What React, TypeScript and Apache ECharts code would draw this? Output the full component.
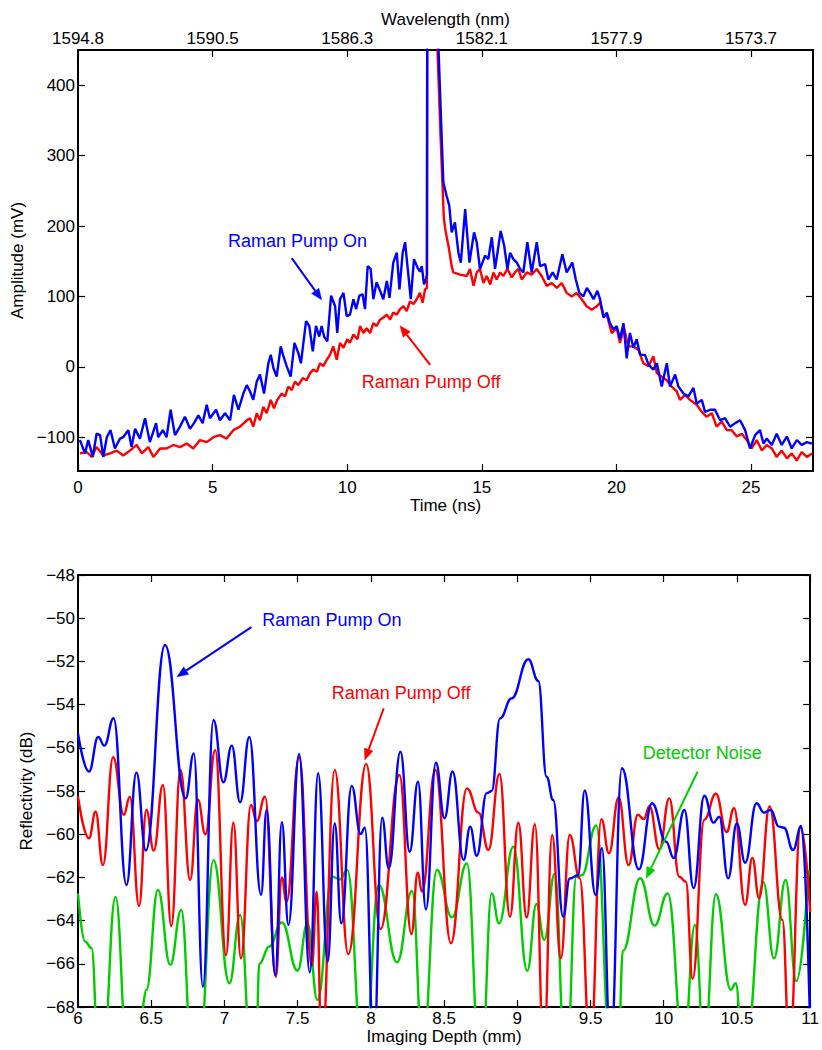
import React, { useEffect, useRef } from "react";
import * as echarts from "echarts";

const FONT = "'Liberation Sans', Arial, Helvetica, sans-serif";
const BLUE = "#0000ff";
const RED = "#ff0000";
const GREEN = "#00cc00";

// ---------- top panel: time-domain traces ----------
const timeTicks = [0, 5, 10, 15, 20, 25];
const wavelengthTickLabels = ["1594.8", "1590.5", "1586.3", "1582.1", "1577.9", "1573.7"];
const amplitudeTicks = [-100, 0, 100, 200, 300, 400];

const pumpOnTrace: [number, number][] = [
  [0.07, -104], [0.26, -123], [0.38, -104], [0.55, -128], [0.69, -95], [0.82, -97], [0.94, -128],
  [1.07, -100], [1.21, -90], [1.37, -116], [1.56, -102], [1.68, -100], [1.87, -90], [1.99, -114],
  [2.12, -88], [2.3, -102], [2.49, -73], [2.67, -107], [2.9, -80], [2.98, -100], [3.15, -90],
  [3.29, -100], [3.44, -61], [3.6, -97], [3.79, -85], [3.97, -71], [4.16, -88], [4.31, -80],
  [4.47, -69], [4.63, -80], [4.78, -54], [4.9, -73], [5.13, -61], [5.27, -76], [5.46, -66],
  [5.65, -76], [5.79, -40], [5.96, -61], [6.14, -38], [6.27, -26], [6.39, -35], [6.51, -47],
  [6.64, -21], [6.76, -11], [6.91, -38], [7.07, 5], [7.16, 17], [7.26, -2], [7.38, -14],
  [7.53, 29], [7.63, 15], [7.75, 1], [7.9, -14], [8.04, 34], [8.18, 20], [8.28, 5], [8.47, 65],
  [8.59, 58], [8.72, 22], [8.84, 58], [8.96, 43], [9.05, 58], [9.14, 43], [9.26, 36], [9.4, 101],
  [9.55, 86], [9.63, 48], [9.73, 96], [9.86, 105], [9.98, 72], [10.1, 74], [10.23, 96],
  [10.33, 82], [10.45, 101], [10.57, 103], [10.66, 82], [10.76, 143], [10.87, 139], [10.97, 96],
  [11.09, 120], [11.22, 108], [11.34, 96], [11.47, 122], [11.57, 98], [11.71, 148], [11.84, 162],
  [11.94, 110], [12.06, 162], [12.15, 177], [12.23, 146], [12.36, 96], [12.48, 153], [12.61, 141],
  [12.7, 135], [12.77, 143], [12.85, 117], [12.93, 125], [12.96, 130], [13.0, 1500], [13.39, 453],
  [13.51, 324], [13.57, 262], [13.69, 243], [13.79, 229], [13.88, 191], [14.0, 205], [14.13, 162],
  [14.22, 148], [14.38, 224], [14.54, 148], [14.71, 191], [14.81, 177], [14.93, 139], [15.12, 158],
  [15.24, 153], [15.37, 184], [15.49, 139], [15.7, 193], [15.83, 172], [15.95, 139], [16.05, 162],
  [16.17, 153], [16.3, 148], [16.42, 139], [16.54, 134], [16.69, 177], [16.85, 134], [17.04, 177],
  [17.16, 143], [17.35, 146], [17.47, 124], [17.63, 134], [17.78, 124], [17.99, 160], [18.15, 134],
  [18.36, 148], [18.49, 124], [18.62, 105], [18.77, 100], [18.9, 112], [19.02, 105], [19.15, 96],
  [19.29, 108], [19.39, 96],
  [19.52, 70], [19.64, 77], [19.76, 62], [19.89, 53], [20.01, 58], [20.13, 39], [20.26, 62],
  [20.38, 12], [20.5, 48], [20.63, 27], [20.75, 39], [20.88, 17], [21.06, 17], [21.19, 3],
  [21.37, -4], [21.5, 5], [21.68, -28], [21.87, 5], [21.99, -28], [22.18, -11], [22.3, -28],
  [22.49, -38], [22.67, -42], [22.86, -30], [22.98, -52], [23.17, -47], [23.29, -64], [23.48, -61],
  [23.66, -61], [23.85, -76], [24.03, -73], [24.22, -85], [24.41, -80], [24.59, -76], [24.78, -90],
  [24.96, -116], [25.15, -97], [25.33, -90], [25.46, -109], [25.58, -102], [25.77, -111],
  [25.95, -95], [26.14, -111], [26.33, -99], [26.51, -116], [26.7, -104], [26.88, -111],
  [27.07, -107], [27.26, -109],
];

const pumpOffTrace: [number, number][] = [
  [0.07, -123], [0.32, -121], [0.51, -128], [0.69, -114], [0.94, -126], [1.19, -123], [1.44, -119],
  [1.68, -126], [1.93, -119], [2.18, -111], [2.37, -123], [2.61, -114], [2.8, -128], [3.05, -116],
  [3.29, -116], [3.54, -111], [3.79, -114], [4.04, -109], [4.28, -116], [4.53, -104], [4.78, -107],
  [5.03, -100], [5.27, -97], [5.52, -102], [5.77, -90], [6.02, -85], [6.27, -76], [6.39, -73],
  [6.51, -85], [6.64, -66], [6.76, -76], [6.88, -57], [7.01, -66], [7.16, -47], [7.28, -59],
  [7.4, -47], [7.57, -38], [7.69, -42], [7.81, -28], [7.94, -33], [8.06, -21], [8.18, -26],
  [8.35, -16], [8.49, -19], [8.62, -9], [8.74, -4], [8.87, -7], [8.99, 5], [9.11, 1], [9.24, 10],
  [9.36, 17], [9.48, 29], [9.61, 10], [9.73, 34], [9.86, 27], [10.0, 39], [10.1, 34], [10.23, 46],
  [10.38, 39], [10.48, 58], [10.6, 48], [10.72, 55], [10.85, 48], [10.97, 62], [11.09, 58],
  [11.22, 67], [11.34, 70], [11.47, 74], [11.59, 67], [11.71, 77], [11.84, 74], [11.96, 82],
  [12.09, 86], [12.21, 79], [12.33, 93], [12.46, 89], [12.58, 96], [12.7, 105], [12.8, 91],
  [12.89, 110], [12.96, 112], [13.0, 1400], [13.35, 453], [13.47, 324], [13.53, 267], [13.59, 210],
  [13.66, 191], [13.76, 172], [13.88, 143], [13.94, 134], [14.19, 131], [14.44, 129], [14.56, 139],
  [14.69, 115], [14.81, 134], [14.93, 139], [15.06, 119], [15.18, 129], [15.31, 117], [15.43, 134],
  [15.55, 124], [15.68, 134], [15.8, 129], [15.95, 139], [16.11, 127], [16.23, 134], [16.36, 139],
  [16.48, 124], [16.67, 134], [16.85, 131], [17.04, 139], [17.22, 129], [17.41, 115], [17.6, 119],
  [17.78, 112], [17.97, 119], [18.15, 105], [18.34, 100], [18.52, 105], [18.71, 96], [18.89, 86],
  [19.08, 81], [19.27, 86], [19.39, 91], [19.52, 72], [19.64, 74], [19.82, 48], [20.01, 55],
  [20.13, 34], [20.28, 55], [20.44, 29], [20.63, 29], [20.82, 24], [21.0, 5], [21.19, 1],
  [21.37, 15], [21.5, -9], [21.68, -14], [21.87, -19], [22.05, -28], [22.24, -35], [22.36, -47],
  [22.55, -40], [22.73, -47], [22.98, -54], [23.17, -64], [23.35, -71], [23.54, -66], [23.72, -85],
  [23.91, -78], [24.1, -90], [24.28, -90], [24.47, -99], [24.65, -95], [24.84, -104], [25.02, -116],
  [25.21, -104], [25.4, -119], [25.58, -111], [25.77, -116], [25.95, -128], [26.14, -119],
  [26.33, -130], [26.51, -123], [26.7, -133], [26.88, -121], [27.07, -128], [27.26, -123],
];

// ---------- bottom panel: reflectivity vs imaging depth ----------
const depthTicks = [6, 6.5, 7, 7.5, 8, 8.5, 9, 9.5, 10, 10.5, 11];
const reflectivityTicks = [-68, -66, -64, -62, -60, -58, -56, -54, -52, -50, -48];

const depthPumpOn: [number, number][] = [
  [6.0, -55.33], [6.075, -57.1], [6.138, -55.5], [6.18, -55.9], [6.243, -54.63], [6.331, -62.35],
  [6.399, -57.15], [6.463, -60.76], [6.594, -51.24], [6.735, -58.34], [6.791, -56.26],
  [6.853, -67.06], [6.925, -54.71], [6.993, -57.6], [7.05, -55.9], [7.107, -58.52], [7.17, -55.5],
  [7.25, -62.81], [7.288, -58.88], [7.347, -66.52], [7.392, -59.45], [7.437, -64.2], [7.51, -56.29],
  [7.583, -66.4], [7.64, -57.18], [7.705, -65.9], [7.753, -59.5], [7.798, -64.13], [7.869, -57.77],
  [7.93, -59.99], [7.959, -59.7], [8.02, -70], [8.077, -59.24], [8.122, -61.58], [8.202, -56.18],
  [8.265, -60.81], [8.322, -57.57], [8.376, -63.48], [8.444, -56.69], [8.503, -59.26],
  [8.558, -57.1], [8.633, -61.19], [8.678, -59.65], [8.723, -61.0], [8.791, -58.1], [8.825, -58.0],
  [8.882, -54.64], [8.961, -53.71], [9.075, -51.9], [9.143, -52.9], [9.2, -57.34], [9.245, -58.42],
  [9.313, -63.82], [9.358, -62.05], [9.415, -61.9], [9.46, -57.98], [9.535, -62.81], [9.578, -60.65],
  [9.637, -70], [9.714, -56.95], [9.83, -61.63], [9.92, -58.57], [10.016, -60.35], [10.068, -61.1],
  [10.141, -58.88], [10.204, -62.5], [10.277, -58.22], [10.34, -59.47], [10.379, -59.19],
  [10.44, -62.04], [10.499, -59.5], [10.556, -61.32], [10.633, -58.57], [10.685, -59.0],
  [10.73, -58.88], [10.787, -59.65], [10.821, -59.7], [10.883, -60.73], [10.939, -59.62],
  [11.0, -69],
];

const depthPumpOff: [number, number][] = [
  [6.0, -58.26], [6.075, -60.19], [6.12, -58.96], [6.17, -61.43], [6.24, -56.44], [6.313, -59.1],
  [6.354, -58.26], [6.417, -63.32], [6.467, -58.88], [6.517, -60.76], [6.58, -57.72],
  [6.637, -64.25], [6.7, -57.03], [6.766, -62.12], [6.818, -58.39], [6.87, -60.0], [6.937, -56.1],
  [7.011, -65.6], [7.061, -59.47], [7.113, -65.75], [7.181, -58.65], [7.22, -59.4], [7.277, -58.26],
  [7.351, -66.6], [7.392, -62.0], [7.424, -63.13], [7.51, -56.44], [7.597, -66.1], [7.63, -62.66],
  [7.664, -70], [7.753, -57.03], [7.846, -65.55], [7.968, -56.75], [8.066, -64.39], [8.195, -57.26],
  [8.277, -64.62], [8.32, -61.77], [8.349, -62.66], [8.44, -57.03], [8.547, -65.05], [8.656, -57.88],
  [8.735, -59.0], [8.803, -60.73], [8.878, -57.21], [8.95, -63.82], [9.007, -59.47], [9.064, -63.85],
  [9.12, -59.54], [9.181, -70], [9.238, -60.04], [9.297, -65.75], [9.358, -60.04], [9.426, -62.04],
  [9.499, -70], [9.574, -59.3], [9.626, -60.88], [9.692, -58.3], [9.76, -61.43], [9.823, -59.1],
  [9.864, -59.3], [9.902, -58.7], [9.97, -60.7], [10.038, -58.34], [10.106, -61.97], [10.151, -62.2],
  [10.197, -66.7], [10.277, -59.33], [10.356, -58.13], [10.429, -59.9], [10.48, -58.8],
  [10.556, -63.27], [10.605, -61.1], [10.651, -62.96], [10.723, -58.72], [10.81, -63.97],
  [10.859, -70], [10.934, -59.65], [11.0, -63.6],
];

const depthNoise: [number, number][] = [
  [6.0, -62.74], [6.048, -64.97], [6.093, -65.28], [6.138, -70], [6.172, -70], [6.256, -62.9],
  [6.336, -70], [6.4, -70], [6.433, -68.2], [6.467, -67.2], [6.546, -62.58], [6.63, -66.05],
  [6.705, -63.51], [6.777, -70], [6.83, -70], [6.925, -61.2], [7.034, -66.9], [7.107, -63.74],
  [7.181, -70], [7.216, -70], [7.238, -66.0], [7.306, -65.2], [7.392, -64.08], [7.499, -66.32],
  [7.567, -64.13], [7.635, -67.68], [7.737, -61.97], [7.787, -62.09], [7.839, -61.66], [7.941, -70],
  [7.96, -70], [8.054, -62.35], [8.179, -65.93], [8.281, -62.63], [8.354, -70], [8.451, -61.66],
  [8.554, -63.85], [8.656, -61.35], [8.74, -70], [8.76, -70], [8.825, -62.74], [8.875, -64.13],
  [8.973, -60.58], [9.068, -66.32], [9.131, -63.23], [9.184, -64.9], [9.256, -61.82], [9.324, -70],
  [9.34, -70], [9.403, -61.97], [9.44, -61.9], [9.539, -59.6], [9.637, -70], [9.69, -70],
  [9.721, -65.4], [9.839, -62.04], [9.937, -64.23], [10.027, -62.74], [10.136, -70], [10.213, -64.2],
  [10.277, -70], [10.356, -62.78], [10.458, -67.2], [10.492, -66.9], [10.537, -70], [10.56, -70],
  [10.68, -62.22], [10.753, -65.75], [10.832, -62.12], [10.905, -66.8], [10.99, -61.66],
];

// annotations, in data coordinates of each panel
type Note = { text: string; color: string; at: [number, number]; tail: [number, number]; head: [number, number] };
const topNotes: Note[] = [
  { text: "Raman Pump On", color: BLUE, at: [5.57, 179], tail: [7.94, 154.4], head: [9.05, 95.2] },
  { text: "Raman Pump Off", color: RED, at: [10.54, -20.9], tail: [13.08, 2.8], head: [11.96, 58.2] },
];
const bottomNotes: Note[] = [
  { text: "Raman Pump On", color: BLUE, at: [7.259, -50.08], tail: [7.184, -50.41], head: [6.676, -52.71] },
  { text: "Raman Pump Off", color: RED, at: [7.733, -53.45], tail: [8.088, -54.17], head: [7.959, -56.56] },
  { text: "Detector Noise", color: GREEN, at: [9.857, -56.23], tail: [10.231, -57.11], head: [9.88, -62.04] },
];

const minus = (v: number | string) => String(v).replace("-", "\u2212");

function frameAxis(extra: any) {
  return {
    type: "value",
    axisLine: { show: true, onZero: false, lineStyle: { color: "#000", width: 2 } },
    axisTick: { show: true, inside: true, length: 7, lineStyle: { color: "#000", width: 1.2 } },
    splitLine: { show: false },
    axisLabel: { show: false },
    ...extra,
  };
}

export default function App() {
  const ref = useRef<HTMLDivElement>(null);

  useEffect(() => {
    if (!ref.current) return;
    const chart = echarts.init(ref.current, null, { renderer: "svg" });
    const labelStyle = { color: "#000", fontSize: 17, fontFamily: FONT };
    const nameStyle = { color: "#000", fontSize: 17, fontFamily: FONT };
    const LW = 2.4;

    const option: any = {
      animation: false,
      backgroundColor: "#fff",
      textStyle: { fontFamily: FONT },
      grid: [
        { left: 78, top: 50, width: 735, height: 421, containLabel: false },
        { left: 78, top: 575, width: 735, height: 432, containLabel: false },
      ],
      xAxis: [
        frameAxis({
          gridIndex: 0, position: "bottom", min: 0, max: 27.3,
          axisTick: { show: true, inside: true, length: 7, customValues: timeTicks, lineStyle: { color: "#000", width: 1.2 } },
          axisLabel: { show: true, customValues: timeTicks, margin: 8, ...labelStyle },
          name: "Time (ns)", nameLocation: "middle", nameGap: 24, nameTextStyle: nameStyle,
        }),
        frameAxis({
          gridIndex: 0, position: "top", min: 0, max: 27.3,
          axisTick: { show: true, inside: true, length: 7, customValues: timeTicks, lineStyle: { color: "#000", width: 1.2 } },
          axisLabel: {
            show: true, customValues: timeTicks, margin: 3, ...labelStyle,
            formatter: (v: number) => wavelengthTickLabels[timeTicks.indexOf(v)] ?? "",
          },
          name: "Wavelength (nm)", nameLocation: "middle", nameGap: 22, nameTextStyle: nameStyle,
        }),
        frameAxis({
          gridIndex: 1, position: "bottom", min: 6, max: 11,
          axisTick: { show: true, inside: true, length: 7, customValues: depthTicks, lineStyle: { color: "#000", width: 1.2 } },
          axisLabel: { show: true, customValues: depthTicks, margin: 3, ...labelStyle, formatter: (v: number) => String(v) },
          name: "Imaging Depth (mm)", nameLocation: "middle", nameGap: 17, nameTextStyle: nameStyle,
        }),
        frameAxis({
          gridIndex: 1, position: "top", min: 6, max: 11,
          axisTick: { show: true, inside: true, length: 7, customValues: depthTicks, lineStyle: { color: "#000", width: 1.2 } },
        }),
      ],
      yAxis: [
        frameAxis({
          gridIndex: 0, position: "left", min: -148, max: 450,
          axisTick: { show: true, inside: true, length: 7, customValues: amplitudeTicks, lineStyle: { color: "#000", width: 1.2 } },
          axisLabel: { show: true, customValues: amplitudeTicks, margin: 3, ...labelStyle, formatter: minus },
          name: "Amplitude (mV)", nameLocation: "middle", nameGap: 47, nameTextStyle: nameStyle,
        }),
        frameAxis({
          gridIndex: 0, position: "right", min: -148, max: 450,
          axisTick: { show: true, inside: true, length: 7, customValues: amplitudeTicks, lineStyle: { color: "#000", width: 1.2 } },
        }),
        frameAxis({
          gridIndex: 1, position: "left", min: -68, max: -48,
          axisTick: { show: true, inside: true, length: 7, customValues: reflectivityTicks, lineStyle: { color: "#000", width: 1.2 } },
          axisLabel: { show: true, customValues: reflectivityTicks, margin: 3, ...labelStyle, formatter: minus },
          name: "Reflectivity (dB)", nameLocation: "middle", nameGap: 38, nameTextStyle: nameStyle,
        }),
        frameAxis({
          gridIndex: 1, position: "right", min: -68, max: -48,
          axisTick: { show: true, inside: true, length: 7, customValues: reflectivityTicks, lineStyle: { color: "#000", width: 1.2 } },
        }),
      ],
      series: [
        {
          name: "Raman Pump Off", type: "line", xAxisIndex: 0, yAxisIndex: 0, data: pumpOffTrace,
          showSymbol: false, symbol: "none", clip: true, lineStyle: { color: RED, width: LW }, z: 2,
        },
        {
          name: "Raman Pump On", type: "line", xAxisIndex: 0, yAxisIndex: 0, data: pumpOnTrace,
          showSymbol: false, symbol: "none", clip: true, lineStyle: { color: BLUE, width: LW }, z: 3,
        },
        {
          name: "Detector Noise", type: "line", xAxisIndex: 2, yAxisIndex: 2, data: depthNoise,
          showSymbol: false, symbol: "none", clip: true, smooth: 0.45, smoothMonotone: "x",
          lineStyle: { color: GREEN, width: LW }, z: 2,
        },
        {
          name: "Raman Pump Off (depth)", type: "line", xAxisIndex: 2, yAxisIndex: 2, data: depthPumpOff,
          showSymbol: false, symbol: "none", clip: true, smooth: 0.45, smoothMonotone: "x",
          lineStyle: { color: RED, width: LW }, z: 3,
        },
        {
          name: "Raman Pump On (depth)", type: "line", xAxisIndex: 2, yAxisIndex: 2, data: depthPumpOn,
          showSymbol: false, symbol: "none", clip: true, smooth: 0.45, smoothMonotone: "x",
          lineStyle: { color: BLUE, width: LW }, z: 4,
        },
      ],
    };
    chart.setOption(option);

    const graphics: any[] = [];
    const addNotes = (notes: Note[], xi: number, yi: number) => {
      notes.forEach((n) => {
        const p = chart.convertToPixel({ xAxisIndex: xi, yAxisIndex: yi }, n.at) as number[];
        const t = chart.convertToPixel({ xAxisIndex: xi, yAxisIndex: yi }, n.tail) as number[];
        const h = chart.convertToPixel({ xAxisIndex: xi, yAxisIndex: yi }, n.head) as number[];
        const dx = h[0] - t[0];
        const dy = h[1] - t[1];
        const len = Math.sqrt(dx * dx + dy * dy) || 1;
        const ux = dx / len, uy = dy / len;
        const L = 11, W = 9;
        const bx = h[0] - ux * L, by = h[1] - uy * L;
        graphics.push({
          type: "text", z: 100,
          style: { text: n.text, x: p[0], y: p[1], fill: n.color, fontSize: 18, fontFamily: FONT, align: "left", verticalAlign: "middle" },
        });
        graphics.push({
          type: "line", z: 100,
          shape: { x1: t[0], y1: t[1], x2: bx, y2: by },
          style: { stroke: n.color, lineWidth: 2 },
        });
        graphics.push({
          type: "polygon", z: 100,
          shape: { points: [[h[0], h[1]], [bx - uy * W / 2, by + ux * W / 2], [bx + uy * W / 2, by - ux * W / 2]] },
          style: { fill: n.color, stroke: n.color, lineWidth: 0.5 },
        });
      });
    };
    addNotes(topNotes, 0, 0);
    addNotes(bottomNotes, 2, 2);
    chart.setOption({ graphic: graphics });

    return () => chart.dispose();
  }, []);

  return <div ref={ref} style={{ position: "fixed", left: 0, top: 0, width: 822, height: 1050, background: "#fff" }} />;
}
